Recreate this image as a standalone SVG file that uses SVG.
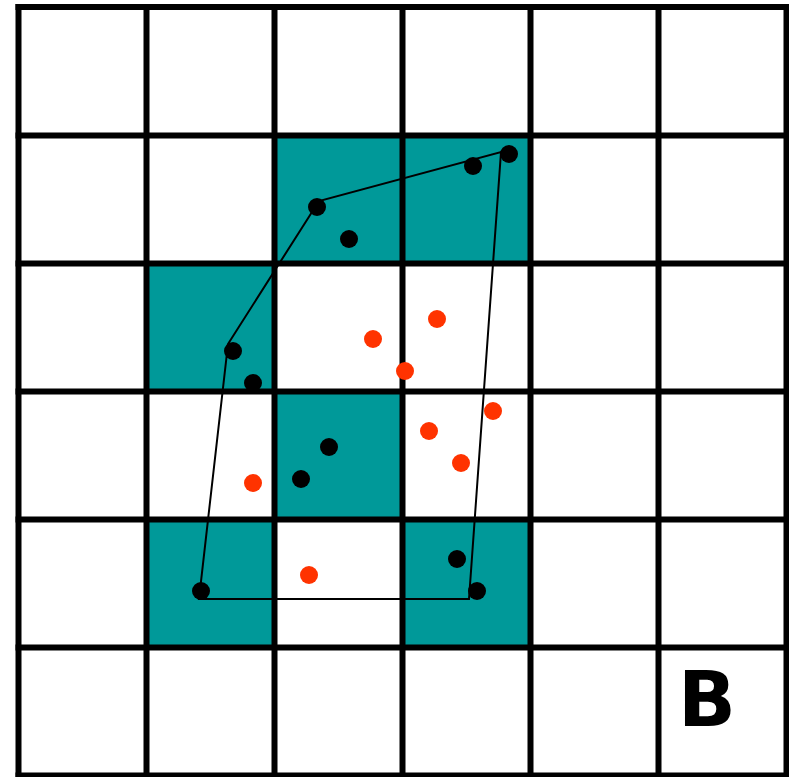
<svg xmlns="http://www.w3.org/2000/svg" width="789" height="777" viewBox="0 0 789 777">
<style>
.cell{fill:#009999}
.grid line{stroke:#000;stroke-width:6}
.poly{fill:none;stroke:#000;stroke-width:2}
.blk{fill:#000}
.red{fill:#ff3300}
.lbl{font-family:"DejaVu Sans",sans-serif;font-weight:bold;font-size:76px;fill:#000}
</style>
<rect width="789" height="777" fill="#fff"/>
<g id="cells">
<rect class="cell" x="274.5" y="135.5" width="256" height="128"/>
<rect class="cell" x="146.5" y="263.5" width="128" height="128"/>
<rect class="cell" x="274.5" y="391.5" width="128" height="128"/>
<rect class="cell" x="146.5" y="519.5" width="128" height="128"/>
<rect class="cell" x="402.5" y="519.5" width="128" height="128"/>
</g>
<g id="grid" class="grid">
<line x1="18.5" y1="4" x2="18.5" y2="778"/>
<line x1="146.5" y1="4" x2="146.5" y2="778"/>
<line x1="274.5" y1="4" x2="274.5" y2="778"/>
<line x1="402.5" y1="4" x2="402.5" y2="778"/>
<line x1="530.5" y1="4" x2="530.5" y2="778"/>
<line x1="658.5" y1="4" x2="658.5" y2="778"/>
<line x1="786.5" y1="4" x2="786.5" y2="778"/>
<line x1="15.5" y1="7" x2="789" y2="7"/>
<line x1="15.5" y1="135.5" x2="789" y2="135.5"/>
<line x1="15.5" y1="263.5" x2="789" y2="263.5"/>
<line x1="15.5" y1="391.5" x2="789" y2="391.5"/>
<line x1="15.5" y1="519.5" x2="789" y2="519.5"/>
<line x1="15.5" y1="647.5" x2="789" y2="647.5"/>
<line x1="15.5" y1="775.5" x2="789" y2="775.5"/>
</g>
<g id="connectors">
<polygon class="poly" points="228,344 319,201 501,152 469,599 199,599"/>
</g>
<g id="black-points">
<circle class="blk" cx="317" cy="207" r="9"/>
<circle class="blk" cx="509" cy="154" r="9"/>
<circle class="blk" cx="473" cy="166" r="9"/>
<circle class="blk" cx="349" cy="239" r="9"/>
<circle class="blk" cx="233" cy="351" r="9"/>
<circle class="blk" cx="253" cy="383" r="9"/>
<circle class="blk" cx="329" cy="447" r="9"/>
<circle class="blk" cx="301" cy="479" r="9"/>
<circle class="blk" cx="201" cy="591" r="9"/>
<circle class="blk" cx="457" cy="559" r="9"/>
<circle class="blk" cx="477" cy="591" r="9"/>
</g>
<g id="red-points">
<circle class="red" cx="373" cy="339" r="9"/>
<circle class="red" cx="437" cy="319" r="9"/>
<circle class="red" cx="405" cy="371" r="9"/>
<circle class="red" cx="493" cy="411" r="9"/>
<circle class="red" cx="429" cy="431" r="9"/>
<circle class="red" cx="461" cy="463" r="9"/>
<circle class="red" cx="253" cy="483" r="9"/>
<circle class="red" cx="309" cy="575" r="9"/>
</g>
<g id="label">
<text class="lbl" x="707" y="726" text-anchor="middle">B</text>
</g>
</svg>
